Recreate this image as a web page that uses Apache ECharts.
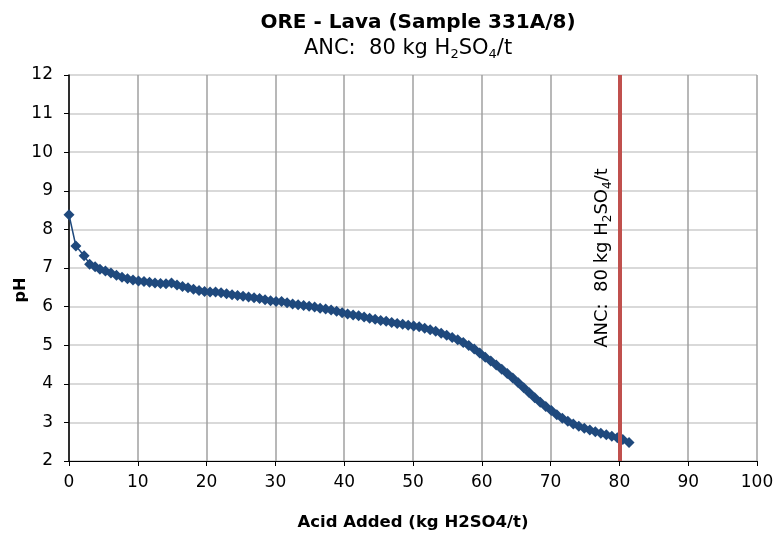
<!DOCTYPE html>
<html>
<head>
<meta charset="utf-8">
<script src="https://cdn.jsdelivr.net/npm/echarts@6/dist/echarts.min.js"></script>
<style>
  html, body { margin: 0; padding: 0; background: #fff; }
  #chart { width: 776px; height: 538px; }
</style>
</head>
<body>
<div id="chart"></div>
<script>
// Acid titration curve
const acidAdded = [
    0, 1.0, 2.2, 3.0, 3.8, 4.5, 5.3, 6.1, 6.9, 7.7,
    8.5, 9.3, 10.1, 10.9, 11.7, 12.5, 13.3, 14.1, 14.9, 15.7,
    16.5, 17.3, 18.1, 18.9, 19.7, 20.5, 21.3, 22.1, 22.9, 23.7,
    24.5, 25.3, 26.1, 26.9, 27.7, 28.5, 29.3, 30.1, 30.9, 31.7,
    32.5, 33.3, 34.1, 34.9, 35.7, 36.5, 37.3, 38.1, 38.9, 39.7,
    40.5, 41.3, 42.1, 42.9, 43.7, 44.5, 45.3, 46.1, 46.9, 47.7,
    48.5, 49.3, 50.1, 50.9, 51.7, 52.5, 53.3, 54.1, 54.9, 55.7,
    56.5, 57.3, 58.1, 58.9, 59.7, 60.5, 61.3, 62.1, 62.9, 63.7,
    64.5, 65.3, 66.1, 66.9, 67.7, 68.5, 69.3, 70.1, 70.9, 71.7,
    72.5, 73.3, 74.1, 74.9, 75.7, 76.5, 77.3, 78.1, 78.9, 79.7,
    80.5, 81.4
];
const phValues = [
    8.38, 7.57, 7.32, 7.10, 7.03, 6.97, 6.92, 6.87, 6.81, 6.76,
    6.72, 6.69, 6.66, 6.65, 6.63, 6.61, 6.60, 6.59, 6.61, 6.56,
    6.52, 6.49, 6.45, 6.42, 6.39, 6.38, 6.38, 6.36, 6.33, 6.31,
    6.29, 6.27, 6.25, 6.23, 6.21, 6.18, 6.15, 6.13, 6.13, 6.10,
    6.07, 6.05, 6.03, 6.01, 5.99, 5.96, 5.94, 5.91, 5.88, 5.84,
    5.81, 5.78, 5.76, 5.73, 5.70, 5.67, 5.64, 5.62, 5.59, 5.56,
    5.54, 5.52, 5.50, 5.48, 5.44, 5.40, 5.36, 5.31, 5.26, 5.20,
    5.14, 5.07, 4.99, 4.90, 4.80, 4.69, 4.59, 4.49, 4.38, 4.27,
    4.15, 4.03, 3.90, 3.77, 3.64, 3.52, 3.41, 3.31, 3.20, 3.11,
    3.03, 2.96, 2.90, 2.85, 2.80, 2.76, 2.72, 2.68, 2.64, 2.60,
    2.56, 2.48
];
const ancValue = 80;

const FONT = '"DejaVu Sans", sans-serif';
const SERIES_COLOR = '#1f497d';
const ANC_COLOR = '#c0504d';
const ANC_TEXT = '{n|ANC:  80 kg H}{s|2}{n|SO}{s|4}{n|/t}';

const chart = echarts.init(document.getElementById('chart'));

const option = {
    animation: false,
    title: [{
        text: 'ORE - Lava (Sample 331A/8)',
        left: 413,
        textAlign: 'center',
        top: 8,
        textStyle: { fontFamily: FONT, fontSize: 20, fontWeight: 'bold', color: '#000' }
    }, {
        text: ANC_TEXT,
        left: 403,
        textAlign: 'center',
        top: 32,
        textStyle: {
            fontWeight: 'normal',
            rich: {
                n: { fontSize: 21, fontFamily: FONT, fontWeight: 'normal', color: '#000', lineHeight: 24, verticalAlign: 'middle' },
                s: { fontSize: 13, fontFamily: FONT, fontWeight: 'normal', color: '#000', lineHeight: 24, verticalAlign: 'bottom', padding: [10, 0, 0, 0] }
            }
        }
    }],
    grid: { left: 69, right: 19, top: 75, bottom: 77, containLabel: false, outerBoundsMode: 'none' },
    xAxis: {
        type: 'value',
        min: 0,
        max: 100,
        interval: 10,
        name: 'Acid Added (kg H2SO4/t)',
        nameLocation: 'middle',
        nameGap: 53,
        nameMoveOverlap: false,
        nameTextStyle: { fontFamily: FONT, fontSize: 16.5, fontWeight: 'bold', color: '#000' },
        axisLine: { show: true, onZero: false, lineStyle: { color: '#000', width: 1 } },
        axisTick: { show: true, length: 5, lineStyle: { color: '#000' } },
        axisLabel: { fontFamily: FONT, fontSize: 17, color: '#000', margin: 13 },
        splitLine: { show: true, lineStyle: { color: '#a0a0a0', width: 1.5 } }
    },
    yAxis: {
        type: 'value',
        min: 2,
        max: 12,
        interval: 1,
        name: 'pH',
        nameLocation: 'middle',
        nameGap: 40,
        nameMoveOverlap: false,
        nameTextStyle: { fontFamily: FONT, fontSize: 16, fontWeight: 'bold', color: '#000', padding: [0, 44, 0, 0] },
        axisLine: { show: true, onZero: false, lineStyle: { color: '#000', width: 1.5 } },
        axisTick: { show: true, length: 5, lineStyle: { color: '#000' } },
        axisLabel: { fontFamily: FONT, fontSize: 17, color: '#000', margin: 16 },
        splitLine: { show: true, lineStyle: { color: '#cccccc', width: 1.5 } }
    },
    series: [{
        type: 'line',
        data: acidAdded.map((x, i) => [x, phValues[i]]),
        symbol: 'diamond',
        symbolSize: 11,
        showAllSymbol: true,
        lineStyle: { color: SERIES_COLOR, width: 1.5 },
        itemStyle: { color: SERIES_COLOR },
        markLine: {
            silent: true,
            symbol: 'none',
            lineStyle: { color: ANC_COLOR, width: 4, type: 'solid' },
            label: {
                show: true,
                position: 'insideMiddleTop',
                distance: 6,
                padding: [0, 0, 0, 20],
                formatter: ANC_TEXT,
                rich: {
                    n: { fontSize: 18, fontFamily: FONT, color: '#000', lineHeight: 22, verticalAlign: 'middle' },
                    s: { fontSize: 12, fontFamily: FONT, color: '#000', lineHeight: 22, verticalAlign: 'bottom', padding: [9, 0, 0, 0] }
                }
            },
            data: [{ xAxis: ancValue }]
        }
    }]
};

chart.setOption(option);
</script>
</body>
</html>
